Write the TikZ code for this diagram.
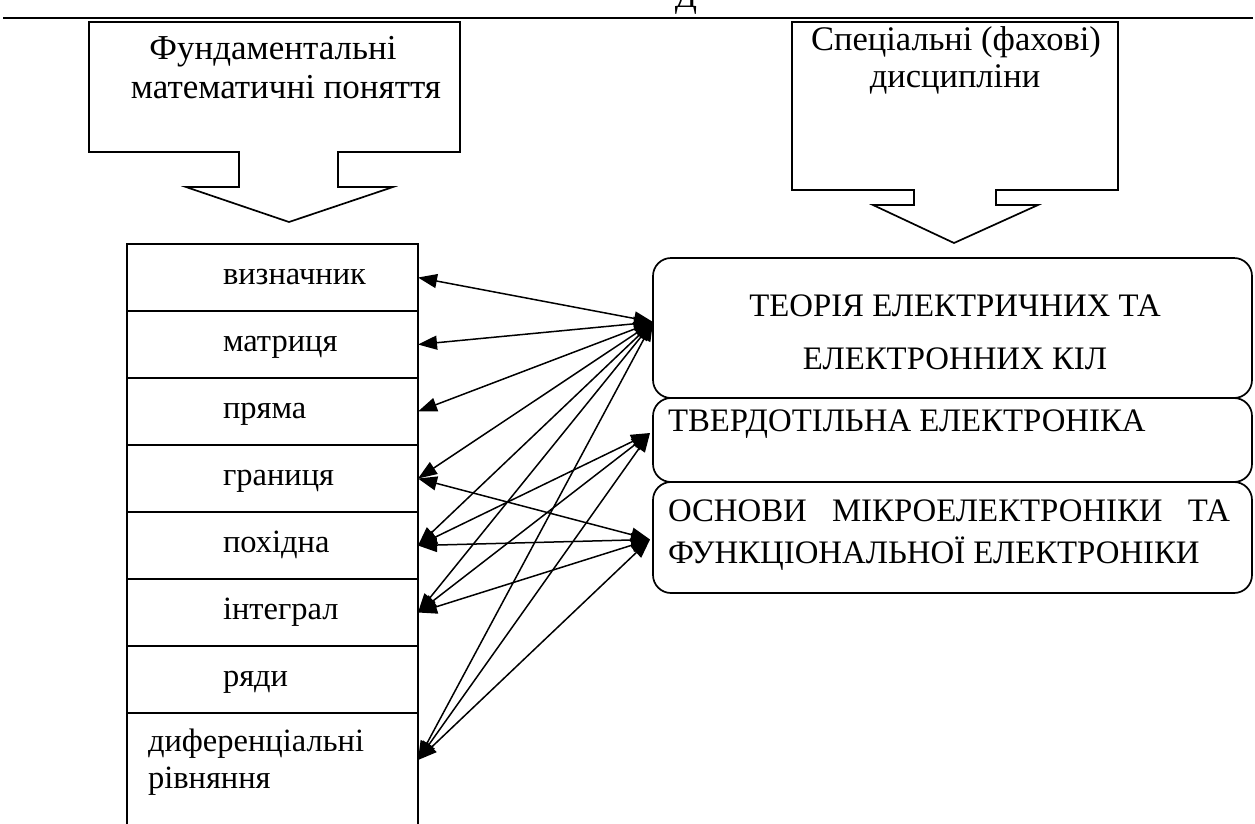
\documentclass[tikz,border=0pt]{standalone}
\usepackage{fontspec}
\setmainfont{Liberation Serif}
\usetikzlibrary{arrows.meta,calc}
\begin{document}
\begin{tikzpicture}[x=1pt,y=-1pt,
  every node/.style={inner sep=0pt,outer sep=0pt,font=\fontsize{32.5}{38}\selectfont},
  headl/.style={font=\fontsize{35}{40}\selectfont},
  headr/.style={font=\fontsize{34.5}{40}\selectfont},
  boxtext/.style={font=\fontsize{32.8}{38}\selectfont},
  frame/.style={draw,line width=1.7pt,line join=miter},
  cell/.style={draw,line width=1.7pt,minimum width=291pt,minimum height=67pt,anchor=north west},
  rbox/.style={draw,line width=1.7pt,rounded corners=18pt,minimum width=599pt,anchor=north west},
  item/.style={anchor=base west},
  link/.style={{Triangle[length=19pt,width=14pt]}-{Triangle[length=19pt,width=14pt]},line width=1.5pt}]
\useasboundingbox (0,0) rectangle (1255,823);
% top rule and cut letter
\node[anchor=base] (dd) at (686,7) {Д};
\draw[line width=2.8pt] (3,18) -- (1253,18);
% left callout
\draw[frame] (89,22) -- (460,22) -- (460,152) -- (338,152) -- (338,187) -- (393,187)
  -- (289,222) -- (186,187) -- (239,187) -- (239,152) -- (89,152) -- cycle;
\node[headl,anchor=base] (c1a) at (273,59) {Фундаментальні};
\node[headl,anchor=base] (c1b) at (286,98) {математичні поняття};
% right callout
\draw[frame] (792,22) -- (1118,22) -- (1118,190) -- (996,190) -- (996,205) -- (1038,205)
  -- (954,243) -- (873,205) -- (914,205) -- (914,190) -- (792,190) -- cycle;
\node[headr,anchor=base] (c2a) at (956,50) {Спеціальні (фахові)};
\node[headr,anchor=base] (c2b) at (955,87) {дисципліни};
% left column
\node[cell] (r1) at (127,244) {};
\node[cell] (r2) at (127,311) {};
\node[cell] (r3) at (127,378) {};
\node[cell] (r4) at (127,445) {};
\node[cell] (r5) at (127,512) {};
\node[cell] (r6) at (127,579) {};
\node[cell] (r7) at (127,646) {};
\node[cell,minimum height=150pt] (r8) at (127,713) {};
\node[item] (t1) at (223,284) {визначник};
\node[item] (t2) at (223,351) {матриця};
\node[item] (t3) at (223,418) {пряма};
\node[item] (t4) at (223,485) {границя};
\node[item] (t5) at (223,552) {похідна};
\node[item] (t6) at (223,619) {інтеграл};
\node[item] (t7) at (223,686) {ряди};
\node[item] (t8) at (148,751) {диференціальні};
\node[item] (t9) at (148,788) {рівняння};
% right boxes
\node[rbox,minimum height=140pt] (b1) at (653,258) {};
\node[rbox,minimum height=84pt] (b2) at (653,398) {};
\node[rbox,minimum height=111pt] (b3) at (653,482) {};
\node[boxtext,anchor=base] (b1a) at (955,316) {ТЕОРІЯ ЕЛЕКТРИЧНИХ ТА};
\node[boxtext,anchor=base] (b1b) at (955,369) {ЕЛЕКТРОННИХ КІЛ};
\node[boxtext,anchor=base west] (b2a) at (668,431) {ТВЕРДОТІЛЬНА ЕЛЕКТРОНІКА};
\node[boxtext,anchor=base west] (b3a) at (668,521) {\hbox to 562pt{ОСНОВИ\hfill МІКРОЕЛЕКТРОНІКИ\hfill ТА}};
\node[boxtext,anchor=base west] (b3b) at (668,563) {ФУНКЦІОНАЛЬНОЇ ЕЛЕКТРОНІКИ};
% connector ends
\coordinate (r8p) at ($(r8.north east)+(0,47)$);
\coordinate (p1) at ($(b1.west)+(0,-6)$);
\coordinate (p2) at ($(b2.west)+(-3,-7)$);
\coordinate (p3) at ($(b3.west)+(-3,2)$);
% connectors
\draw[link] (r1.east) -- (p1);
\draw[link] (r2.east) -- (p1);
\draw[link] (r3.east) -- (p1);
\draw[link] (r4.east) -- (p1);
\draw[link] (r5.east) -- (p1);
\draw[link] (r6.east) -- (p1);
\draw[link] (r8p) -- (p1);
\draw[link] (r5.east) -- (p2);
\draw[link] (r6.east) -- (p2);
\draw[link] (r8p) -- (p2);
\draw[link] (r4.east) -- (p3);
\draw[link] (r5.east) -- (p3);
\draw[link] (r6.east) -- (p3);
\draw[link] (r8p) -- (p3);
\end{tikzpicture}
\end{document}
